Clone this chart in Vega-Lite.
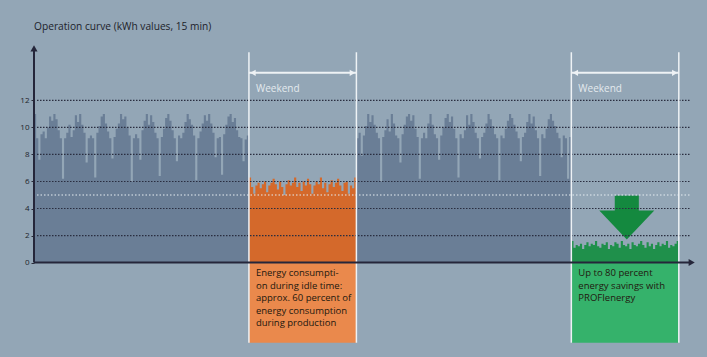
{
"$schema": "https://vega.github.io/schema/vega-lite/v6.json",
"width": 662, "height": 300,
"autosize": {"type": "none"},
"padding": {"left": 34, "top": 45, "right": 11, "bottom": 12},
"background": "#93a6b6",
"config": {"view": {"stroke": null}, "font": "Open Sans",
  "axisY": {"grid": false, "domain": false, "ticks": true, "tickSize": 3, "tickColor": "#2a2d3a", "labelFontSize": 8, "labelColor": "#1d1f2b", "labelPadding": 2, "labelFont": "Open Sans"}},
"title": {"text": "Operation curve (kWh values, 15 min)", "anchor": "start", "frame": "group", "fontSize": 10.2, "fontWeight": "normal", "color": "#1d1f2b", "offset": 13, "font": "Open Sans"},
"resolve": {"scale": {"color": "independent"}},
"layer": [
{"data": {"values": [{"b": "idle", "x": 5, "x2": 7.5}, {"b": "saved", "x": 12.5, "x2": 15}]},
 "mark": {"type": "rect"},
 "encoding": {
  "x": {"field": "x", "type": "quantitative", "scale": {"domain": [0, 15.4], "nice": false, "zero": false}, "axis": null},
  "x2": {"field": "x2"},
  "y": {"datum": 0, "type": "quantitative", "scale": {"domain": [-6.1, 16.1], "nice": false, "zero": false},
        "axis": {"values": [0, 2, 4, 6, 8, 10, 12], "title": null, "orient": "left"}},
  "y2": {"datum": -5.93},
  "color": {"field": "b", "type": "nominal", "scale": {"domain": ["idle", "saved"], "range": ["#ea894c", "#35b26b"]}, "legend": null}
 }},
{"data": {"values": [
{"s":"wd1","x":0,"v":11.0},{"s":"wd1","x":0.05,"v":9.2},{"s":"wd1","x":0.1,"v":7.6},{"s":"wd1","x":0.15,"v":9.5},{"s":"wd1","x":0.2,"v":9.7},{"s":"wd1","x":0.25,"v":9.2},{"s":"wd1","x":0.3,"v":10.0},{"s":"wd1","x":0.35,"v":10.8},{"s":"wd1","x":0.4,"v":10.5},{"s":"wd1","x":0.45,"v":11.0},
{"s":"wd1","x":0.5,"v":10.6},{"s":"wd1","x":0.55,"v":9.8},{"s":"wd1","x":0.6,"v":9.2},{"s":"wd1","x":0.65,"v":6.2},{"s":"wd1","x":0.7,"v":9.2},{"s":"wd1","x":0.75,"v":9.6},{"s":"wd1","x":0.8,"v":10.2},{"s":"wd1","x":0.85,"v":9.3},{"s":"wd1","x":0.9,"v":9.8},{"s":"wd1","x":0.95,"v":10.9},
{"s":"wd1","x":1,"v":10.4},{"s":"wd1","x":1.05,"v":11.0},{"s":"wd1","x":1.1,"v":10.2},{"s":"wd1","x":1.15,"v":9.6},{"s":"wd1","x":1.2,"v":7.4},{"s":"wd1","x":1.25,"v":9.2},{"s":"wd1","x":1.3,"v":9.4},{"s":"wd1","x":1.35,"v":9.2},{"s":"wd1","x":1.4,"v":6.3},{"s":"wd1","x":1.45,"v":9.6},
{"s":"wd1","x":1.5,"v":10.1},{"s":"wd1","x":1.55,"v":10.8},{"s":"wd1","x":1.6,"v":11.0},{"s":"wd1","x":1.65,"v":10.3},{"s":"wd1","x":1.7,"v":9.7},{"s":"wd1","x":1.75,"v":9.2},{"s":"wd1","x":1.8,"v":7.7},{"s":"wd1","x":1.85,"v":9.3},{"s":"wd1","x":1.9,"v":9.9},{"s":"wd1","x":1.95,"v":10.3},
{"s":"wd1","x":2,"v":11.0},{"s":"wd1","x":2.05,"v":10.6},{"s":"wd1","x":2.1,"v":10.8},{"s":"wd1","x":2.15,"v":10.0},{"s":"wd1","x":2.2,"v":9.4},{"s":"wd1","x":2.25,"v":6.0},{"s":"wd1","x":2.3,"v":9.2},{"s":"wd1","x":2.35,"v":9.5},{"s":"wd1","x":2.4,"v":9.2},{"s":"wd1","x":2.45,"v":7.6},
{"s":"wd1","x":2.5,"v":9.8},{"s":"wd1","x":2.55,"v":10.5},{"s":"wd1","x":2.6,"v":11.0},{"s":"wd1","x":2.65,"v":10.2},{"s":"wd1","x":2.7,"v":10.9},{"s":"wd1","x":2.75,"v":10.4},{"s":"wd1","x":2.8,"v":9.6},{"s":"wd1","x":2.85,"v":9.2},{"s":"wd1","x":2.9,"v":6.4},{"s":"wd1","x":2.95,"v":9.3},
{"s":"wd1","x":3,"v":9.9},{"s":"wd1","x":3.05,"v":10.7},{"s":"wd1","x":3.1,"v":11.0},{"s":"wd1","x":3.15,"v":10.5},{"s":"wd1","x":3.2,"v":9.8},{"s":"wd1","x":3.25,"v":9.2},{"s":"wd1","x":3.3,"v":7.5},{"s":"wd1","x":3.35,"v":9.4},{"s":"wd1","x":3.4,"v":9.2},{"s":"wd1","x":3.45,"v":9.6},
{"s":"wd1","x":3.5,"v":10.4},{"s":"wd1","x":3.55,"v":11.0},{"s":"wd1","x":3.6,"v":10.6},{"s":"wd1","x":3.65,"v":10.2},{"s":"wd1","x":3.7,"v":9.4},{"s":"wd1","x":3.75,"v":6.1},{"s":"wd1","x":3.8,"v":9.2},{"s":"wd1","x":3.85,"v":9.7},{"s":"wd1","x":3.9,"v":10.3},{"s":"wd1","x":3.95,"v":10.9},
{"s":"wd1","x":4,"v":10.5},{"s":"wd1","x":4.05,"v":11.0},{"s":"wd1","x":4.1,"v":10.3},{"s":"wd1","x":4.15,"v":9.6},{"s":"wd1","x":4.2,"v":7.8},{"s":"wd1","x":4.25,"v":9.2},{"s":"wd1","x":4.3,"v":9.3},{"s":"wd1","x":4.35,"v":6.5},{"s":"wd1","x":4.4,"v":9.5},{"s":"wd1","x":4.45,"v":10.2},
{"s":"wd1","x":4.5,"v":10.8},{"s":"wd1","x":4.55,"v":11.0},{"s":"wd1","x":4.6,"v":10.4},{"s":"wd1","x":4.65,"v":10.7},{"s":"wd1","x":4.7,"v":9.8},{"s":"wd1","x":4.75,"v":9.3},{"s":"wd1","x":4.8,"v":9.2},{"s":"wd1","x":4.85,"v":7.5},{"s":"wd1","x":4.9,"v":9.1},{"s":"wd1","x":4.95,"v":9.4},{"s":"wd1","x":5,"v":9.4},
{"s":"we1","x":5,"v":6.3},{"s":"we1","x":5.05,"v":5.6},{"s":"we1","x":5.1,"v":5.1},{"s":"we1","x":5.15,"v":5.7},{"s":"we1","x":5.2,"v":5.9},{"s":"we1","x":5.25,"v":5.5},{"s":"we1","x":5.3,"v":5.8},{"s":"we1","x":5.35,"v":6.0},{"s":"we1","x":5.4,"v":5.2},{"s":"we1","x":5.45,"v":5.7},
{"s":"we1","x":5.5,"v":5.9},{"s":"we1","x":5.55,"v":6.2},{"s":"we1","x":5.6,"v":5.8},{"s":"we1","x":5.65,"v":5.4},{"s":"we1","x":5.7,"v":6.0},{"s":"we1","x":5.75,"v":5.6},{"s":"we1","x":5.8,"v":5.0},{"s":"we1","x":5.85,"v":5.8},{"s":"we1","x":5.9,"v":6.1},{"s":"we1","x":5.95,"v":5.7},
{"s":"we1","x":6,"v":5.9},{"s":"we1","x":6.05,"v":6.3},{"s":"we1","x":6.1,"v":5.6},{"s":"we1","x":6.15,"v":5.9},{"s":"we1","x":6.2,"v":5.3},{"s":"we1","x":6.25,"v":6.0},{"s":"we1","x":6.3,"v":5.7},{"s":"we1","x":6.35,"v":6.2},{"s":"we1","x":6.4,"v":5.8},{"s":"we1","x":6.45,"v":5.1},
{"s":"we1","x":6.5,"v":5.7},{"s":"we1","x":6.55,"v":6.0},{"s":"we1","x":6.6,"v":5.8},{"s":"we1","x":6.65,"v":6.3},{"s":"we1","x":6.7,"v":5.5},{"s":"we1","x":6.75,"v":5.9},{"s":"we1","x":6.8,"v":5.2},{"s":"we1","x":6.85,"v":5.8},{"s":"we1","x":6.9,"v":6.1},{"s":"we1","x":6.95,"v":5.6},
{"s":"we1","x":7,"v":5.9},{"s":"we1","x":7.05,"v":6.2},{"s":"we1","x":7.1,"v":5.7},{"s":"we1","x":7.15,"v":5.3},{"s":"we1","x":7.2,"v":5.9},{"s":"we1","x":7.25,"v":6.0},{"s":"we1","x":7.3,"v":5.1},{"s":"we1","x":7.35,"v":5.7},{"s":"we1","x":7.4,"v":5.5},{"s":"we1","x":7.45,"v":6.3},{"s":"we1","x":7.5,"v":6.3},
{"s":"wd2","x":7.5,"v":9.2},{"s":"wd2","x":7.55,"v":9.6},{"s":"wd2","x":7.6,"v":7.9},{"s":"wd2","x":7.65,"v":9.4},{"s":"wd2","x":7.7,"v":10.1},{"s":"wd2","x":7.75,"v":11.0},{"s":"wd2","x":7.8,"v":10.4},{"s":"wd2","x":7.85,"v":10.9},{"s":"wd2","x":7.9,"v":10.2},{"s":"wd2","x":7.95,"v":9.6},
{"s":"wd2","x":8,"v":9.2},{"s":"wd2","x":8.05,"v":6.0},{"s":"wd2","x":8.1,"v":9.3},{"s":"wd2","x":8.15,"v":9.8},{"s":"wd2","x":8.2,"v":10.6},{"s":"wd2","x":8.25,"v":9.7},{"s":"wd2","x":8.3,"v":11.0},{"s":"wd2","x":8.35,"v":10.3},{"s":"wd2","x":8.4,"v":9.4},{"s":"wd2","x":8.45,"v":9.2},
{"s":"wd2","x":8.5,"v":7.4},{"s":"wd2","x":8.55,"v":9.5},{"s":"wd2","x":8.6,"v":10.2},{"s":"wd2","x":8.65,"v":10.8},{"s":"wd2","x":8.7,"v":11.0},{"s":"wd2","x":8.75,"v":10.5},{"s":"wd2","x":8.8,"v":10.9},{"s":"wd2","x":8.85,"v":9.9},{"s":"wd2","x":8.9,"v":9.3},{"s":"wd2","x":8.95,"v":6.2},
{"s":"wd2","x":9,"v":9.2},{"s":"wd2","x":9.05,"v":9.6},{"s":"wd2","x":9.1,"v":9.2},{"s":"wd2","x":9.15,"v":10.3},{"s":"wd2","x":9.2,"v":11.0},{"s":"wd2","x":9.25,"v":10.2},{"s":"wd2","x":9.3,"v":9.5},{"s":"wd2","x":9.35,"v":9.2},{"s":"wd2","x":9.4,"v":7.6},{"s":"wd2","x":9.45,"v":9.4},
{"s":"wd2","x":9.5,"v":10.0},{"s":"wd2","x":9.55,"v":10.7},{"s":"wd2","x":9.6,"v":11.0},{"s":"wd2","x":9.65,"v":10.4},{"s":"wd2","x":9.7,"v":10.8},{"s":"wd2","x":9.75,"v":9.9},{"s":"wd2","x":9.8,"v":9.2},{"s":"wd2","x":9.85,"v":6.3},{"s":"wd2","x":9.9,"v":9.5},{"s":"wd2","x":9.95,"v":9.2},
{"s":"wd2","x":10,"v":9.8},{"s":"wd2","x":10.05,"v":10.9},{"s":"wd2","x":10.1,"v":10.2},{"s":"wd2","x":10.15,"v":11.0},{"s":"wd2","x":10.2,"v":10.4},{"s":"wd2","x":10.25,"v":9.6},{"s":"wd2","x":10.3,"v":9.2},{"s":"wd2","x":10.35,"v":7.7},{"s":"wd2","x":10.4,"v":9.3},{"s":"wd2","x":10.45,"v":9.6},
{"s":"wd2","x":10.5,"v":10.3},{"s":"wd2","x":10.55,"v":11.0},{"s":"wd2","x":10.6,"v":10.6},{"s":"wd2","x":10.65,"v":10.1},{"s":"wd2","x":10.7,"v":9.5},{"s":"wd2","x":10.75,"v":9.2},{"s":"wd2","x":10.8,"v":6.1},{"s":"wd2","x":10.85,"v":9.4},{"s":"wd2","x":10.9,"v":9.2},{"s":"wd2","x":10.95,"v":9.9},
{"s":"wd2","x":11,"v":10.5},{"s":"wd2","x":11.05,"v":11.0},{"s":"wd2","x":11.1,"v":10.7},{"s":"wd2","x":11.15,"v":10.2},{"s":"wd2","x":11.2,"v":9.7},{"s":"wd2","x":11.25,"v":9.2},{"s":"wd2","x":11.3,"v":7.5},{"s":"wd2","x":11.35,"v":9.3},{"s":"wd2","x":11.4,"v":9.6},{"s":"wd2","x":11.45,"v":10.4},
{"s":"wd2","x":11.5,"v":11.0},{"s":"wd2","x":11.55,"v":10.3},{"s":"wd2","x":11.6,"v":10.8},{"s":"wd2","x":11.65,"v":9.8},{"s":"wd2","x":11.7,"v":9.2},{"s":"wd2","x":11.75,"v":6.4},{"s":"wd2","x":11.8,"v":9.5},{"s":"wd2","x":11.85,"v":9.2},{"s":"wd2","x":11.9,"v":9.9},{"s":"wd2","x":11.95,"v":10.6},
{"s":"wd2","x":12,"v":11.0},{"s":"wd2","x":12.05,"v":10.5},{"s":"wd2","x":12.1,"v":10.1},{"s":"wd2","x":12.15,"v":9.6},{"s":"wd2","x":12.2,"v":9.2},{"s":"wd2","x":12.25,"v":7.8},{"s":"wd2","x":12.3,"v":9.4},{"s":"wd2","x":12.35,"v":9.2},{"s":"wd2","x":12.4,"v":6.2},{"s":"wd2","x":12.45,"v":9.3},{"s":"wd2","x":12.5,"v":9.3},
{"s":"we2","x":12.5,"v":1.6},{"s":"we2","x":12.55,"v":1.1},{"s":"we2","x":12.6,"v":1.3},{"s":"we2","x":12.65,"v":1.2},{"s":"we2","x":12.7,"v":1.4},{"s":"we2","x":12.75,"v":1.0},{"s":"we2","x":12.8,"v":1.3},{"s":"we2","x":12.85,"v":1.5},{"s":"we2","x":12.9,"v":1.2},{"s":"we2","x":12.95,"v":1.4},
{"s":"we2","x":13,"v":1.3},{"s":"we2","x":13.05,"v":1.6},{"s":"we2","x":13.1,"v":1.2},{"s":"we2","x":13.15,"v":1.1},{"s":"we2","x":13.2,"v":1.4},{"s":"we2","x":13.25,"v":1.3},{"s":"we2","x":13.3,"v":1.5},{"s":"we2","x":13.35,"v":1.0},{"s":"we2","x":13.4,"v":1.3},{"s":"we2","x":13.45,"v":1.2},
{"s":"we2","x":13.5,"v":1.5},{"s":"we2","x":13.55,"v":1.4},{"s":"we2","x":13.6,"v":1.1},{"s":"we2","x":13.65,"v":1.6},{"s":"we2","x":13.7,"v":1.3},{"s":"we2","x":13.75,"v":1.2},{"s":"we2","x":13.8,"v":1.4},{"s":"we2","x":13.85,"v":1.0},{"s":"we2","x":13.9,"v":1.5},{"s":"we2","x":13.95,"v":1.3},
{"s":"we2","x":14,"v":1.2},{"s":"we2","x":14.05,"v":1.4},{"s":"we2","x":14.1,"v":1.6},{"s":"we2","x":14.15,"v":1.3},{"s":"we2","x":14.2,"v":1.1},{"s":"we2","x":14.25,"v":1.5},{"s":"we2","x":14.3,"v":1.2},{"s":"we2","x":14.35,"v":1.4},{"s":"we2","x":14.4,"v":1.0},{"s":"we2","x":14.45,"v":1.3},
{"s":"we2","x":14.5,"v":1.5},{"s":"we2","x":14.55,"v":1.2},{"s":"we2","x":14.6,"v":1.4},{"s":"we2","x":14.65,"v":1.3},{"s":"we2","x":14.7,"v":1.6},{"s":"we2","x":14.75,"v":1.1},{"s":"we2","x":14.8,"v":1.3},{"s":"we2","x":14.85,"v":1.2},{"s":"we2","x":14.9,"v":1.4},{"s":"we2","x":14.95,"v":1.6},{"s":"we2","x":15,"v":1.6}
 ]},
 "mark": {"type": "area", "interpolate": "step-after"},
 "encoding": {
  "x": {"field": "x", "type": "quantitative", "axis": null},
  "y": {"field": "v", "type": "quantitative", "stack": null},
  "y2": {"datum": 0},
  "color": {"field": "s", "type": "nominal", "scale": {"domain": ["wd1", "we1", "wd2", "we2"], "range": ["#6a7e96", "#d4692b", "#6a7e96", "#1f904b"]}, "legend": null}
 }},
{"data": {"values": [{"p": "shaft"}]},
 "mark": {"type": "rect", "color": "#14893f"},
 "encoding": {
  "x": {"datum": 13.51, "type": "quantitative", "axis": null},
  "x2": {"datum": 14.07},
  "y": {"datum": 4.96, "type": "quantitative"},
  "y2": {"datum": 3.8}
 }},
{"data": {"values": [{"p": "head"}]},
 "mark": {"type": "point", "shape": "M-1,-0.527L1,-0.527L0,0.527Z", "filled": true, "opacity": 1, "color": "#14893f", "size": 3025},
 "encoding": {
  "x": {"datum": 13.79, "type": "quantitative", "axis": null},
  "y": {"datum": 2.78, "type": "quantitative"}
 }},
{"data": {"values": [{"g": 2}, {"g": 4}, {"g": 6}, {"g": 8}, {"g": 10}, {"g": 12}]},
 "mark": {"type": "rule", "color": "#2a2e40", "strokeWidth": 1.2, "strokeDash": [1.5, 1.5]},
 "encoding": {
  "y": {"field": "g", "type": "quantitative"},
  "x": {"datum": 0.07, "type": "quantitative", "axis": null},
  "x2": {"datum": 15.26}
 }},
{"data": {"values": [{"g": 5}]},
 "mark": {"type": "rule", "color": "#e6edf2", "strokeWidth": 1.2, "strokeDash": [1.5, 2]},
 "encoding": {
  "y": {"field": "g", "type": "quantitative"},
  "x": {"datum": 0.07, "type": "quantitative", "axis": null},
  "x2": {"datum": 15.26}
 }},
{"data": {"values": [{"x": 5}, {"x": 7.5}, {"x": 12.5}, {"x": 15}]},
 "mark": {"type": "rule", "color": "#eef2f5", "strokeWidth": 1.5},
 "encoding": {
  "x": {"field": "x", "type": "quantitative", "axis": null},
  "y": {"datum": -5.93, "type": "quantitative"},
  "y2": {"datum": 15.56}
 }},
{"data": {"values": [{"a": 5, "b": 7.5}, {"a": 12.5, "b": 15}]},
 "layer": [
  {"mark": {"type": "rule", "color": "#eef2f5", "strokeWidth": 2},
   "encoding": {"x": {"field": "a", "type": "quantitative", "axis": null}, "x2": {"field": "b"}, "y": {"datum": 14.04, "type": "quantitative"}}},
  {"mark": {"type": "point", "shape": "triangle-left", "filled": true, "opacity": 1, "color": "#eef2f5", "size": 40, "xOffset": 4},
   "encoding": {"x": {"field": "a", "type": "quantitative", "axis": null}, "y": {"datum": 14.04, "type": "quantitative"}}},
  {"mark": {"type": "point", "shape": "triangle-right", "filled": true, "opacity": 1, "color": "#eef2f5", "size": 40, "xOffset": -4},
   "encoding": {"x": {"field": "b", "type": "quantitative", "axis": null}, "y": {"datum": 14.04, "type": "quantitative"}}},
  {"mark": {"type": "text", "align": "left", "baseline": "alphabetic", "dx": 7, "fontSize": 10, "color": "#e4eaee", "font": "Open Sans"},
   "encoding": {"x": {"field": "a", "type": "quantitative", "axis": null}, "y": {"datum": 12.63, "type": "quantitative"}, "text": {"value": "Weekend"}}}
 ]},
{"data": {"values": [
  {"x": 5, "t": "Energy consumpti-\non during idle time:\napprox. 60 percent of\nenergy consumption\nduring production"},
  {"x": 12.5, "t": "Up to 80 percent\nenergy savings with\nPROFIenergy"}]},
 "mark": {"type": "text", "align": "left", "baseline": "alphabetic", "dx": 7, "fontSize": 9.5, "lineHeight": 12.5, "lineBreak": "\n", "color": "#22180f", "font": "Open Sans"},
 "encoding": {
  "x": {"field": "x", "type": "quantitative", "axis": null},
  "y": {"datum": -1.0, "type": "quantitative"},
  "text": {"field": "t", "type": "nominal"}
 }},
{"data": {"values": [{"axis": "x"}]},
 "layer": [
  {"mark": {"type": "rule", "color": "#25263a", "strokeWidth": 2},
   "encoding": {"x": {"datum": 0, "type": "quantitative", "axis": null}, "x2": {"datum": 15.28}, "y": {"datum": 0, "type": "quantitative"}}},
  {"mark": {"type": "rule", "color": "#25263a", "strokeWidth": 2},
   "encoding": {"x": {"datum": 0, "type": "quantitative", "axis": null}, "y": {"datum": 0, "type": "quantitative"}, "y2": {"datum": 15.8}}},
  {"mark": {"type": "point", "shape": "triangle-right", "filled": true, "opacity": 1, "color": "#25263a", "size": 50},
   "encoding": {"x": {"datum": 15.3, "type": "quantitative", "axis": null}, "y": {"datum": 0, "type": "quantitative"}}},
  {"mark": {"type": "point", "shape": "triangle-up", "filled": true, "opacity": 1, "color": "#25263a", "size": 50},
   "encoding": {"x": {"datum": 0, "type": "quantitative", "axis": null}, "y": {"datum": 15.85, "type": "quantitative"}}}
 ]}
]
}
